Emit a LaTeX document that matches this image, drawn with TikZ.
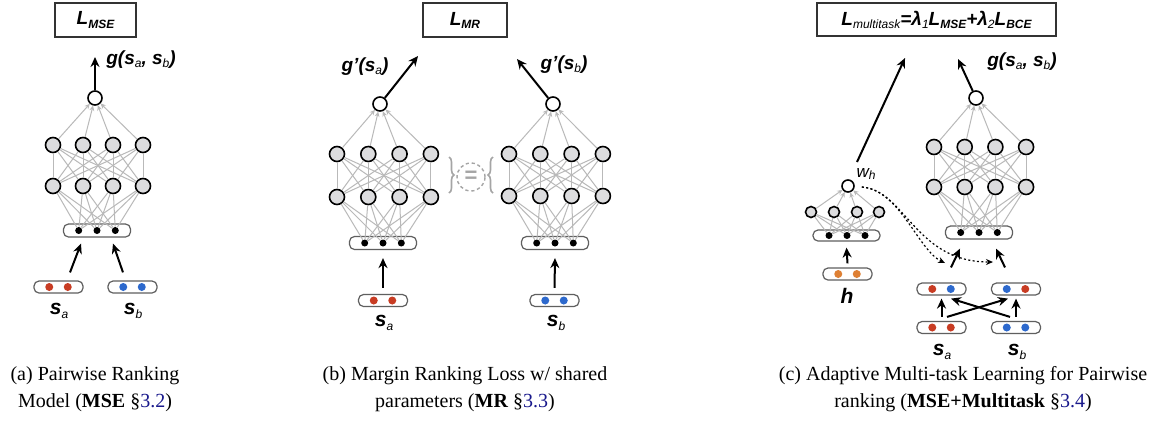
\documentclass[tikz,border=0pt]{standalone}
\usepackage{fontspec}
\setmainfont{Liberation Serif}
\setsansfont{Liberation Sans}
\usetikzlibrary{arrows.meta,calc,decorations.pathreplacing}
\definecolor{nodegray}{RGB}{220,220,222}
\definecolor{edgegray}{RGB}{185,185,185}
\definecolor{boxline}{RGB}{95,95,95}
\definecolor{dred}{RGB}{200,60,35}
\definecolor{dblue}{RGB}{45,105,205}
\definecolor{dorange}{RGB}{222,128,52}
\definecolor{linkblue}{RGB}{25,25,140}
\definecolor{bracegray}{RGB}{165,165,165}
\newcommand\lb[1]{{\sffamily\bfseries\itshape #1}}
\newcommand\lsub[1]{\raisebox{-0.35ex}{\fontsize{6}{6}\selectfont\sffamily\itshape #1}}
\newcommand\lsubb[1]{\raisebox{-0.35ex}{\fontsize{6}{6}\selectfont\sffamily\bfseries\itshape #1}}
\tikzset{
  neuron/.style={circle,draw=black,line width=0.8pt,fill=nodegray,minimum size=7.5pt,inner sep=0pt},
  outn/.style={circle,draw=black,line width=0.8pt,fill=white,minimum size=7pt,inner sep=0pt},
  vdot/.style={circle,fill=black,minimum size=3.5pt,inner sep=0pt},
  cdot/.style={circle,minimum size=4pt,inner sep=0pt},
  vecbox/.style={draw=boxline,rounded corners=2.5pt,line width=0.6pt,fill=white,inner sep=0pt},
  lossbox/.style={draw=black!80,line width=0.6pt,fill=white,inner sep=0pt},
  gedge/.style={draw=edgegray,line width=0.5pt},
  garrow/.style={gedge,-{Stealth[length=2.6pt,width=2.4pt]}},
  blk/.style={draw=black,line width=1pt,-{Stealth[length=5pt,width=4.5pt]}},
  dotarr/.style={draw=black,line width=0.6pt,dash pattern=on 1pt off 1.2pt,-{Stealth[length=3.5pt,width=3pt]}},
  lbl/.style={inner sep=0pt,font=\fontsize{9.5}{10}\selectfont},
  slbl/.style={inner sep=0pt,font=\fontsize{10.5}{11}\selectfont},
  capt/.style={align=center,inner sep=0pt,font=\fontsize{10}{13.5}\selectfont},
  bracest/.style={draw=bracegray,line width=0.8pt,decorate,decoration={brace,amplitude=2.5pt}},
}
% prefix, x1, dx, y1, y2, outx, outy, boxcx, boxcy
\newcommand\drawnet[9]{%
  \node[outn] (#1-o) at (#6,#7) {};
  \foreach \i in {1,...,4}{
    \node[neuron] (#1-h\i) at ({#2+(\i-1)*#3},#4) {};
    \node[neuron] (#1-g\i) at ({#2+(\i-1)*#3},#5) {};
  }
  \node[vecbox,minimum width=33.5pt,minimum height=6.5pt] (#1-in) at (#8,#9) {};
  \foreach \j in {1,2,3}{ \node[vdot] (#1-d\j) at ($(#1-in.center)+({(\j-2)*18.3},0)$) {}; }
  \foreach \i in {1,...,4}{
    \draw[garrow] (#1-h\i) -- (#1-o);
    \foreach \k in {1,...,4}{ \draw[gedge] (#1-g\i) -- (#1-h\k); }
    \foreach \j in {1,2,3}{ \draw[gedge] (#1-d\j) -- (#1-g\i); }
  }
}
\newcommand\vecpair[5]{%
  \node[vecbox,minimum width=24.5pt,minimum height=6pt] (#1) at (#2,#3) {};
  \node[cdot,fill=#4] (#1-1) at ($(#1.center)+(-9.25,0)$) {};
  \node[cdot,fill=#5] (#1-2) at ($(#1.center)+(9.25,0)$) {};
}
\begin{document}
\begin{tikzpicture}[x=0.5pt,y=-0.5pt]
\fill[white] (0,0) rectangle (1171,430);
\useasboundingbox (0,0) rectangle (1171,430);

% ================= (a) =================
\node[lossbox,minimum width=40.5pt,minimum height=17pt] (a-loss) at (95.5,20) {\fontsize{9.5}{10}\selectfont\lb{L}\lsubb{MSE}};
\drawnet{a}{53}{30}{145}{186}{95}{98}{97}{230.5}
\coordinate (a-tip) at (95,57);
\draw[blk] (a-o) -- (a-tip);
\node[lbl] (a-g) at (141,60) {\lb{g(s}\lsub{a}\lb{, s}\lsub{b}\lb{)}};
\vecpair{a-sa}{58.5}{287}{dred}{dred}
\vecpair{a-sb}{132.5}{287}{dblue}{dblue}
\draw[blk] ($(a-sa.north)+(11.5,-8)$) -- ($(a-in.south)+(-16,6)$);
\draw[blk] ($(a-sb.north)+(-9.5,-8)$) -- ($(a-in.south)+(16,6)$);
\node[slbl] (a-lsa) at (59,311) {\lb{s}\lsub{a}};
\node[slbl] (a-lsb) at (133,311) {\lb{s}\lsub{b}};
\node[capt] (a-cap) at (95,389) {(a) Pairwise Ranking\\Model (\textbf{MSE} §\textcolor{linkblue}{3.2})};

% ================= (b) =================
\node[lossbox,minimum width=42pt,minimum height=17pt] (b-loss) at (465,20) {\fontsize{9.5}{10}\selectfont\lb{L}\lsubb{MR}};
\drawnet{bl}{337}{31.3}{154}{197}{380}{104}{383}{243}
\drawnet{br}{509}{31.3}{154}{196}{553}{104}{555}{243}
\coordinate (bl-tip) at (418,56);
\coordinate (br-tip) at (517,59);
\draw[blk] (bl-o) -- (bl-tip);
\draw[blk] (br-o) -- (br-tip);
\node[lbl] (bl-g) at (365,67) {\lb{g’(s}\lsub{a}\lb{)}};
\node[lbl] (br-g) at (564,65) {\lb{g’(s}\lsub{b}\lb{)}};
\vecpair{bl-sa}{383}{300.5}{dred}{dred}
\vecpair{br-sb}{554.5}{300.5}{dblue}{dblue}
\draw[blk] ($(bl-sa.north)+(0,-6)$) -- ($(bl-in.south)+(0,8)$);
\draw[blk] ($(br-sb.north)+(0,-6)$) -- ($(br-in.south)+(0,8)$);
\node[slbl] (b-lsa) at (384,323) {\lb{s}\lsub{a}};
\node[slbl] (b-lsb) at (556,323) {\lb{s}\lsub{b}};
\node[circle,draw=bracegray,dashed,dash pattern=on 1.6pt off 1.4pt,line width=0.7pt,minimum size=14pt,inner sep=0pt,text=bracegray,font=\fontsize{11}{11}\selectfont\sffamily\bfseries] (b-eq) at (471,177) {=};
\draw[bracest] (449,157) -- (449,193);
\draw[bracest] (493,193) -- (493,157);
\node[capt] (b-cap) at (465,389) {(b) Margin Ranking Loss w/ shared\\parameters (\textbf{MR} §\textcolor{linkblue}{3.3})};

% ================= (c) =================
\node[lossbox,minimum width=119.5pt,minimum height=16.5pt] (c-loss) at (936.5,19.5) {\fontsize{9.5}{10}\selectfont\lb{L}\lsub{multitask}\lb{=λ}\lsub{1}\lb{L}\lsubb{MSE}\lb{+λ}\lsub{2}\lb{L}\lsubb{BCE}};
\drawnet{c}{934}{30.7}{147}{187}{976}{98}{979}{232.5}
\coordinate (c-tip) at (958,59);
\draw[blk] (c-o) -- (c-tip);
\node[lbl] (c-g) at (1022,62) {\lb{g(s}\lsub{a}\lb{, s}\lsub{b}\lb{)}};
% small network
\node[outn,minimum size=6pt] (c-wh) at (848,186) {};
\node[inner sep=0pt,font=\fontsize{8.5}{9}\selectfont] (c-whl) at (866,174) {{\sffamily\itshape w}\lsub{h}};
\foreach \i/\x in {1/811,2/834,3/857,4/879}{
  \node[neuron,minimum size=5.5pt] (s-h\i) at (\x,212) {};
}
\node[vecbox,minimum width=33.5pt,minimum height=5.5pt] (s-in) at (846.5,235.5) {};
\foreach \j/\x in {1/829,2/847,3/865}{ \node[vdot] (s-d\j) at (\x,235.5) {}; }
\foreach \i in {1,...,4}{
  \draw[garrow] (s-h\i) -- (c-wh);
  \foreach \j in {1,2,3}{ \draw[gedge] (s-d\j) -- (s-h\i); }
}
\vecpair{c-h}{847.5}{274}{dorange}{dorange}
\draw[blk] ($(c-h.north)+(0,-4)$) -- ($(s-in.south)+(0,6)$);
\node[slbl] (c-lh) at (847,296) {\lb{h}};
\coordinate (c-tip2) at (905,58);
\draw[blk] ($(c-wh)+(9,-24)$) -- (c-tip2);
% pair vectors
\vecpair{c-ma}{941.5}{289}{dred}{dblue}
\vecpair{c-mb}{1016}{289}{dblue}{dred}
\vecpair{c-ba}{941.5}{327.5}{dred}{dred}
\vecpair{c-bb}{1016}{327.5}{dblue}{dblue}
\draw[blk] ($(c-ma.north)+(9.5,-15)$) -- ($(c-in.south)+(-19,9)$);
\draw[blk] ($(c-mb.north)+(-11,-15)$) -- ($(c-in.south)+(17,9)$);
\draw[blk] ($(c-ba.north)+(0,-4)$) -- ($(c-ma.south)+(0,3)$);
\draw[blk] ($(c-bb.north)+(0,-4)$) -- ($(c-mb.south)+(0,3)$);
\draw[blk] ($(c-ba.north)+(5.5,-4)$) -- ($(c-mb.south)+(-8,3)$);
\draw[blk] ($(c-bb.north)+(-6,-4)$) -- ($(c-ma.south)+(9.5,3)$);
% dotted
\draw[dotarr] ($(c-wh.east)+(7,1)$) .. controls (900,190) and (918,250) .. (945,263);
\draw[dotarr] ($(c-wh.east)+(7,1)$) .. controls (905,190) and (915,262) .. (993,262);
\node[slbl] (c-lsa) at (942,352) {\lb{s}\lsub{a}};
\node[slbl] (c-lsb) at (1017,352) {\lb{s}\lsub{b}};
\node[capt] (c-cap) at (963,389) {(c) Adaptive Multi-task Learning for Pairwise\\ranking (\textbf{MSE+Multitask} §\textcolor{linkblue}{3.4})};
\end{tikzpicture}
\end{document}
